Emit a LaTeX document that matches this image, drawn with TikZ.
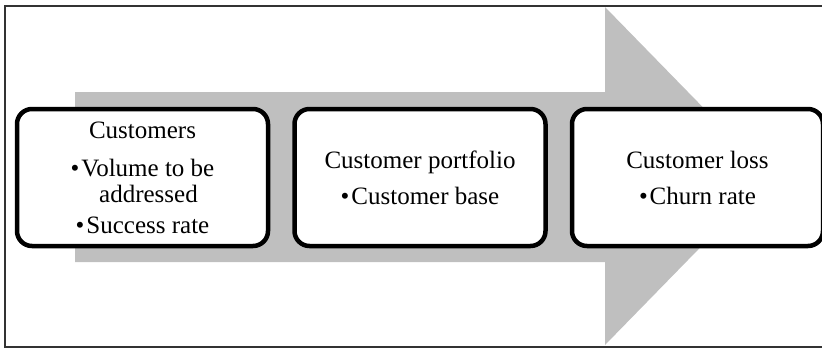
\documentclass[tikz,border=0pt]{standalone}
\usepackage{fontspec}
\setmainfont{Liberation Serif}
\usepackage{tikz}
\usetikzlibrary{positioning}
\definecolor{arrowgray}{HTML}{BFBFBF}
\definecolor{framegray}{HTML}{333333}

\begin{document}
\begin{tikzpicture}[x=1pt, y=-1pt,
      stage/.style={rectangle, rounded corners=15pt, draw=black, line width=4.5pt,
                    fill=white, minimum width=251pt, minimum height=137pt,
                    align=center, inner sep=0pt, font=\fontsize{25}{26}\selectfont},
    ]
    \useasboundingbox (0,0) rectangle (822,349);
    \clip (0,0) rectangle (822,349);
    \draw[line width=1.3pt, framegray] (5,6) rectangle (840,347);
    \fill[arrowgray] (75,92) -- (605,92) -- (605,7) -- (770,176) -- (605,345)
      -- (605,262) -- (75,262) -- cycle;
    \node[stage] (cust) at (142.5,177.5) {Customers\\[12pt]\textbullet\hspace{2pt}Volume to be\\\hspace*{12pt}addressed\\[5pt]\textbullet\hspace{2pt}Success rate};
    \node[stage, right=22pt of cust] (port) {Customer portfolio\\[10pt]\textbullet\hspace{2pt}Customer base};
    \node[stage, right=22pt of port] (loss) {Customer loss\\[10pt]\textbullet\hspace{2pt}Churn rate};
  \end{tikzpicture}
\end{document}
